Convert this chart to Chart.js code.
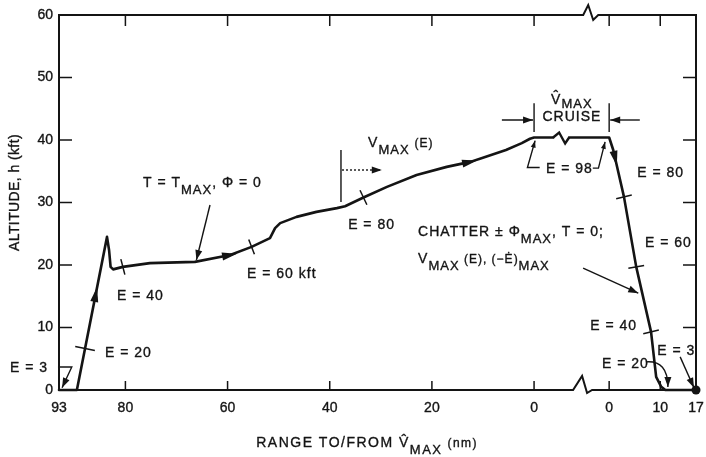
<!DOCTYPE html>
<html><head><meta charset="utf-8">
<script src="https://cdn.jsdelivr.net/npm/chart.js@4.4.1/dist/chart.umd.min.js"></script>
<style>html,body{margin:0;padding:0;background:#fff}canvas{display:block}</style>
</head><body>
<canvas id="c" width="706" height="457"></canvas>
<script>
// ---------- values ----------
const altTicks  = [0, 10, 20, 30, 40, 50, 60];          // kft
const outTicks  = [93, 80, 60, 40, 20, 0];              // range TO V^max (nm)
const backTicks = [0, 10, 17];                          // range FROM V^max (nm)

// outbound climb / cruise-climb (range to V^max, nm ; altitude, kft)
const outRange = [93, 89.5, 83.6, 83.2, 82.9, 82.4, 80.5, 75.2, 66.4, 59.5, 55.3, 51.7, 50.7, 49.7, 46.5, 42.6, 38.6, 37.0, 33.4, 28.8, 23.0, 17.1, 12.5, 10.6, 5.5, 2.4, 0.8, 0];
const outAlt   = [0,  0,    24.5, 22.4, 19.7, 19.3, 19.7, 20.3, 20.5, 21.6, 22.9, 24.3, 25.9, 26.7, 27.7, 28.5, 29.1, 29.4, 30.8, 32.5, 34.4, 35.7, 36.5, 37.0, 38.4, 39.5, 40.2, 40.4];

// descent after cruise (range from V^max, nm ; altitude, kft)
const backRange = [0,    0.8,  2.9,  5.3,  8.2, 9.2, 10.2, 11.0, 17];
const backAlt   = [40.4, 38.4, 30.9, 19.7, 9.3, 2.1, 0.5,  0,    0];

// energy-height crossing marks on the path (range, nm)
const outEnergyRange  = [87.9, 80.5, 55.3, 33.4];   // E = 20, 40, 60, 80
const backEnergyRange = [2.9, 5.3, 8.2];            // E = 80, 60, 40
// direction arrows on the path (range, nm)
const outArrowRange  = [85.8, 59.5, 12.5];
const backArrowRange = [1.2];

// ---------- broken axis mapping ----------
const OUT_MAX = outTicks[0];
const GAP = 14.7;                       // width of the axis break, in nm of axis
const uOut  = r => OUT_MAX - r;
const uBack = r => OUT_MAX + GAP + r;
const X_MAX = uBack(backTicks[backTicks.length - 1]);
const tickLabels = outTicks.concat(backTicks).map(String);
const tickValues = outTicks.map(uOut).concat(backTicks.map(uBack));

const FONT = "'Liberation Sans', Arial, Helvetica, sans-serif";
const INK = '#141414';
const TXT_STROKE = 0.35;

const pts = outRange.map((r, i) => ({x: uOut(r), y: outAlt[i]}))
  .concat(backRange.map((r, i) => ({x: uBack(r), y: backAlt[i]})));
const N = pts.length;

// ---------- annotations (anchored in axis units) ----------
const notes = [
  {u: 16.44, a: 33.3, parts: [['T = T'], ['MAX', 's'], [', \u03A6 = 0']]},
  {u: 36.8,  a: 18.7, parts: [['E = 60 kft']]},
  {u: 60.5,  a: 39.7, parts: [['V'], ['MAX', 's'], [' '], ['(E)', 'p']]},
  {u: 56.6,  a: 26.6, parts: [['E = 80']]},
  {u: 100.4, a: 46.6, align: 'center', subDy: 4, parts: [['V\u0302'], ['MAX', 's']]},
  {u: 100.4, a: 43.84, align: 'center', parts: [['CRUISE']]},
  {u: 95.34, a: 35.5, parts: [['E = 98']]},
  {u: 113.2, a: 34.9, parts: [['E = 80']]},
  {u: 114.7, a: 23.7, parts: [['E = 60']]},
  {u: 70.3,  a: 25.4, parts: [['CHATTER \u00B1 \u03A6'], ['MAX', 's'], [', T = 0;']]},
  {u: 70.3,  a: 21.1, parts: [['V'], ['MAX', 's'], [' (E), (\u2212E\u0307)', 'p'], ['MAX', 's']]},
  {u: 104.0, a: 10.4, parts: [['E = 40']]},
  {u: 106.3, a: 4.3,  parts: [['E = 20']]},
  {u: 117.1, a: 6.4,  parts: [['E = 3']]},
  {u: 11.35, a: 15.2, parts: [['E = 40']]},
  {u: 9.0,   a: 6.1,  parts: [['E = 20']]},
  {u: -9.6,  a: 3.7,  parts: [['E = 3']]},
  {u: 38.6,  a: -8.3, spacing: 1.5, parts: [['RANGE TO/FROM '], ['V\u0302'], ['MAX', 's'], [' (nm)', 'p']]}
];

// leader lines: [[u,a],[u,a],...], arrow at last point
const leaders = [
  {pts: [[29.56, 29.6], [26.9, 20.8]], head: true},
  {pts: [[55.2, 38.4], [55.2, 30.1]]},
  {pts: [[55.4, 35.2], [63.2, 35.2]], head: true, dash: [2, 2]},
  {pts: [[OUT_MAX, 45.9], [OUT_MAX, 41.3]]},
  {pts: [[OUT_MAX + GAP, 45.9], [OUT_MAX + GAP, 41.3]]},
  {pts: [[86.7, 43.2], [92.8, 43.2]], head: true},
  {pts: [[113.7, 43.2], [107.9, 43.2]], head: true},
  {pts: [[94.1, 35.6], [91.7, 35.6], [93.2, 39.9]], head: true, small: true},
  {pts: [[104.5, 35.5], [105.6, 35.5], [106.9, 39.7]], head: true, small: true},
  {pts: [[102.6, 19.5], [113.4, 15.5]], head: true},
  {curve: [[114.9, 4.5], [119.2, 4.8], [119.2, 0.5]], head: true},
  {pts: [[121.6, 5.3], [124.3, 0.35]], head: true},
  {pts: [[-0.2, 3.68], [2.5, 3.68], [0.6, 0.35]], head: true}
];

const SPECS = {n: {size: 14, dy: 0}, s: {size: 13, dy: 7}, p: {size: 12, dy: 0}};

function drawRich(ctx, x, capMid, parts, align, subDy, spacing) {
  ctx.save();
  ctx.letterSpacing = (spacing == null ? 1 : spacing) + 'px';
  ctx.textBaseline = 'alphabetic';
  ctx.textAlign = 'left';
  ctx.fillStyle = INK;
  ctx.strokeStyle = INK;
  ctx.lineWidth = TXT_STROKE;
  ctx.lineJoin = 'round';
  const base = capMid + 0.358 * 14;
  let w = 0;
  const ws = parts.map(p => {
    const sp = SPECS[p[1] || 'n'];
    ctx.font = sp.size + 'px ' + FONT;
    const m = ctx.measureText(p[0]).width;
    w += m; return m;
  });
  let xx = align === 'center' ? x - w / 2 : x;
  parts.forEach((p, i) => {
    const k = p[1] || 'n';
    const sp = SPECS[k];
    ctx.font = sp.size + 'px ' + FONT;
    const dy = k === 's' ? (subDy == null ? sp.dy : subDy) : 0;
    ctx.fillText(p[0], xx, base + dy);
    ctx.strokeText(p[0], xx, base + dy);
    xx += ws[i];
  });
  ctx.restore();
}

function arrowHead(ctx, x, y, dx, dy, len, half) {
  const L = Math.hypot(dx, dy) || 1; dx /= L; dy /= L;
  ctx.beginPath();
  ctx.moveTo(x, y);
  ctx.lineTo(x - dx * len - dy * half, y - dy * len + dx * half);
  ctx.lineTo(x - dx * len + dy * half, y - dy * len - dx * half);
  ctx.closePath(); ctx.fill();
}

const decor = {
  id: 'decor',
  beforeDraw(chart) {
    const c = chart.ctx; c.save(); c.fillStyle = '#fff'; c.fillRect(0, 0, chart.width, chart.height); c.restore();
  },
  afterDatasetsDraw(chart) {
    const ctx = chart.ctx, xs = chart.scales.x, ys = chart.scales.y;
    const X = u => xs.getPixelForValue(u), Y = a => ys.getPixelForValue(a);
    const {left: L, right: R, top: T, bottom: B} = chart.chartArea;
    const meta = chart.getDatasetMeta(0).data;
    const onPath = u => {
      const px = X(u);
      for (let i = 0; i < meta.length - 1; i++) {
        const p = meta[i], q = meta[i + 1];
        if (px >= p.x && px <= q.x) {
          const t = q.x === p.x ? 0 : (px - p.x) / (q.x - p.x);
          return {x: px, y: p.y + t * (q.y - p.y), dx: q.x - p.x, dy: q.y - p.y};
        }
      }
      return null;
    };
    ctx.save();
    ctx.strokeStyle = INK; ctx.fillStyle = INK; ctx.lineCap = 'butt'; ctx.lineJoin = 'miter';

    // break on the cruise line
    const ub = 98.3, cb = onPath(ub);
    if (cb) {
      ctx.fillStyle = '#fff'; ctx.fillRect(cb.x - 7, cb.y - 4, 14, 8); ctx.fillStyle = INK;
      ctx.lineWidth = 2.4; ctx.beginPath();
      ctx.moveTo(cb.x - 8, cb.y); ctx.lineTo(cb.x - 2, cb.y - 5); ctx.lineTo(cb.x + 4, cb.y + 6); ctx.lineTo(cb.x + 8, cb.y);
      ctx.stroke();
    }

    // frame with axis breaks
    ctx.lineWidth = 2;
    const xt = X(103.6), xb = X(102.4);
    ctx.beginPath();
    ctx.moveTo(L, B + 1); ctx.lineTo(L, T);
    ctx.lineTo(xt - 5, T); ctx.lineTo(xt, T - 10); ctx.lineTo(xt + 5, T + 5); ctx.lineTo(xt + 10, T);
    ctx.lineTo(R, T); ctx.lineTo(R, B);
    ctx.lineTo(xb + 10, B); ctx.lineTo(xb + 5, B + 3); ctx.lineTo(xb, B - 14); ctx.lineTo(xb - 9, B);
    ctx.lineTo(L, B);
    ctx.stroke();

    // inward tick marks
    ctx.lineWidth = 1.5;
    ctx.beginPath();
    altTicks.forEach(a => {
      if (a <= ys.min || a >= ys.max) return;
      ctx.moveTo(L, Y(a)); ctx.lineTo(L + 13, Y(a));
      ctx.moveTo(R - 13, Y(a)); ctx.lineTo(R, Y(a));
    });
    tickValues.forEach(u => {
      if (u <= xs.min || u >= xs.max) return;
      ctx.moveTo(X(u), B); ctx.lineTo(X(u), B - 9);
      ctx.moveTo(X(u), T); ctx.lineTo(X(u), T + 11);
    });
    ctx.stroke();

    // energy marks across the path
    ctx.lineWidth = 1.5;
    outEnergyRange.map(uOut).concat(backEnergyRange.map(uBack)).forEach((u, i) => {
      const p = onPath(u); if (!p) return;
      const l = Math.hypot(p.dx, p.dy), nx = -p.dy / l, ny = p.dx / l, h = i === 0 ? 10 : 8;
      ctx.beginPath(); ctx.moveTo(p.x - nx * h, p.y - ny * h); ctx.lineTo(p.x + nx * h, p.y + ny * h); ctx.stroke();
    });

    // direction arrows on the path
    outArrowRange.map(uOut).concat(backArrowRange.map(uBack)).forEach(u => {
      const p = onPath(u); if (!p) return;
      const l = Math.hypot(p.dx, p.dy);
      arrowHead(ctx, p.x + p.dx / l * 7, p.y + p.dy / l * 7, p.dx, p.dy, 15, 4);
    });

    // leader lines
    leaders.forEach(ld => {
      ctx.lineWidth = 1.4;
      ctx.setLineDash(ld.dash || []);
      ctx.beginPath();
      let ex, ey, dx, dy;
      if (ld.curve) {
        const [a, b, c] = ld.curve.map(p => [X(p[0]), Y(p[1])]);
        ctx.moveTo(a[0], a[1]); ctx.quadraticCurveTo(b[0], b[1], c[0], c[1]);
        ex = c[0]; ey = c[1]; dx = c[0] - b[0]; dy = c[1] - b[1];
      } else {
        const ps = ld.pts.map(p => [X(p[0]), Y(p[1])]);
        ctx.moveTo(ps[0][0], ps[0][1]);
        for (let i = 1; i < ps.length; i++) ctx.lineTo(ps[i][0], ps[i][1]);
        const a = ps[ps.length - 2], b = ps[ps.length - 1];
        ex = b[0]; ey = b[1]; dx = b[0] - a[0]; dy = b[1] - a[1];
      }
      ctx.stroke();
      ctx.setLineDash([]);
      if (ld.head) arrowHead(ctx, ex, ey, dx, dy, ld.small ? 7 : 10, ld.small ? 2.5 : 3.5);
    });

    // texts
    notes.forEach(n => drawRich(ctx, X(n.u), Y(n.a), n.parts, n.align, n.subDy, n.spacing));

    // y-axis title
    ctx.save();
    ctx.translate(14, (T + B) / 2 - 10);
    ctx.rotate(-Math.PI / 2);
    drawRich(ctx, 0, 0, [['ALTITUDE, h (kft)']], 'center', null, 0.4);
    ctx.restore();

    ctx.restore();
  }
};

new Chart(document.getElementById('c'), {
  type: 'line',
  data: {datasets: [{
    data: pts, borderColor: INK, borderWidth: 2.6, tension: 0, clip: false,
    borderJoinStyle: 'round', borderCapStyle: 'round',
    pointRadius: c => (c.dataIndex === N - 1 ? 4.5 : 0),
    pointBackgroundColor: INK, pointBorderWidth: 0, pointHoverRadius: 0
  }]},
  options: {
    responsive: false, animation: false, devicePixelRatio: 1,
    layout: {padding: {top: 15, right: 10, left: 0, bottom: 0}},
    plugins: {legend: {display: false}, tooltip: {enabled: false}},
    scales: {
      x: {
        type: 'linear', min: 0, max: X_MAX,
        grid: {display: false, drawTicks: false}, border: {display: false},
        afterBuildTicks: s => { s.ticks = tickValues.map(v => ({value: v})); },
        afterFit: s => { s.height = 67; s.paddingRight = 0; s.paddingLeft = 0; },
        ticks: {autoSkip: false, maxRotation: 0, padding: 10, color: INK,
          textStrokeColor: INK, textStrokeWidth: TXT_STROKE,
          font: {family: FONT, size: 14}, callback: (v, i) => tickLabels[i]}
      },
      y: {
        min: altTicks[0], max: altTicks[altTicks.length - 1],
        grid: {display: false, drawTicks: false}, border: {display: false},
        afterBuildTicks: s => { s.ticks = altTicks.map(v => ({value: v})); },
        afterFit: s => { s.width = 59; s.paddingTop = 0; s.paddingBottom = 0; },
        ticks: {padding: 6, color: INK, textStrokeColor: INK, textStrokeWidth: TXT_STROKE,
          font: {family: FONT, size: 14}}
      }
    }
  },
  plugins: [decor]
});
</script>
</body></html>
